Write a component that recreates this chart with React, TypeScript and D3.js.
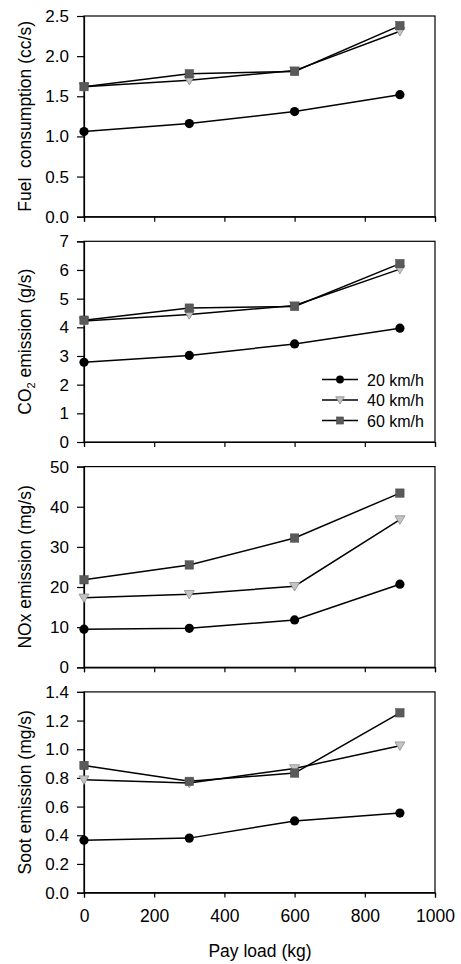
import React, { useEffect, useRef } from "react";
import * as d3 from "d3";

// pay load on the x axis, one point per load
const payLoad = [0, 300, 600, 900];
const speeds = ["20 km/h", "40 km/h", "60 km/h"];
const xTicks = [0, 200, 400, 600, 800, 1000];

// fuel consumption (cc/s) per speed
const fuel20 = [1.06, 1.16, 1.31, 1.52];
const fuel40 = [1.62, 1.7, 1.82, 2.31];
const fuel60 = [1.62, 1.78, 1.81, 2.38];

// CO2 emission (g/s)
const co2_20 = [2.78, 3.02, 3.42, 3.97];
const co2_40 = [4.22, 4.45, 4.76, 6.03];
const co2_60 = [4.25, 4.67, 4.73, 6.22];

// NOx emission (mg/s)
const nox20 = [9.5, 9.7, 11.8, 20.7];
const nox40 = [17.3, 18.2, 20.2, 36.8];
const nox60 = [21.8, 25.5, 32.2, 43.4];

// soot emission (mg/s)
const soot20 = [0.366, 0.38, 0.5, 0.555];
const soot40 = [0.788, 0.764, 0.866, 1.025];
const soot60 = [0.887, 0.776, 0.834, 1.254];

const fuelTicks = [0, 0.5, 1, 1.5, 2, 2.5];
const co2Ticks = [0, 1, 2, 3, 4, 5, 6, 7];
const noxTicks = [0, 10, 20, 30, 40, 50];
const sootTicks = [0, 0.2, 0.4, 0.6, 0.8, 1.0, 1.2, 1.4];

const panels = [
  { label: "Fuel  consumption (cc/s)", max: 2.5, ticks: fuelTicks, fmt: ".1f", series: [fuel20, fuel40, fuel60] },
  { label: "CO2", max: 7, ticks: co2Ticks, fmt: "d", series: [co2_20, co2_40, co2_60] },
  { label: "NOx emission (mg/s)", max: 50, ticks: noxTicks, fmt: "d", series: [nox20, nox40, nox60] },
  { label: "Soot emission (mg/s)", max: 1.4, ticks: sootTicks, fmt: ".1f", series: [soot20, soot40, soot60] },
];

const FONT = "'Liberation Sans', Arial, sans-serif";

const App = () => {
  const svgRef = useRef(null);

  useEffect(() => {
    document.body.style.margin = "0";
    const svg = d3.select(svgRef.current);
    svg.selectAll("*").remove();

    const left = 84;
    const right = 435;
    const panelH = 200.7;
    const panelTop = (i) => 16 + i * 225.3;

    const x = d3.scaleLinear().domain([0, 1000]).range([left, right]);

    // marker drawing for each series
    const drawMarker = (g, k, cx, cy, s) => {
      if (k === 0) {
        g.append("circle").attr("cx", cx).attr("cy", cy).attr("r", 4.6 * s).attr("fill", "#000");
      } else if (k === 1) {
        const h = 5 * s;
        g.append("path")
          .attr("d", `M${cx - h},${cy - h * 0.75}L${cx + h},${cy - h * 0.75}L${cx},${cy + h * 0.95}Z`)
          .attr("fill", "#c4c4c4")
          .attr("stroke", "#8a8a8a")
          .attr("stroke-width", 0.8);
      } else {
        const h = 4.2 * s;
        g.append("rect")
          .attr("x", cx - h)
          .attr("y", cy - h)
          .attr("width", 2 * h)
          .attr("height", 2 * h)
          .attr("fill", "#5a5a5a")
          .attr("stroke", "#444")
          .attr("stroke-width", 0.5);
      }
    };

    panels.forEach((p, i) => {
      const top = panelTop(i);
      const bottom = top + panelH;
      const y = d3.scaleLinear().domain([0, p.max]).range([bottom, top]);
      const g = svg.append("g");

      // frame
      g.append("rect")
        .attr("x", left)
        .attr("y", top)
        .attr("width", right - left)
        .attr("height", panelH)
        .attr("fill", "none")
        .attr("stroke", "#000")
        .attr("stroke-width", 1.2);

      // y axis
      const yAxis = g
        .append("g")
        .attr("transform", `translate(${left},0)`)
        .call(d3.axisLeft(y).tickValues(p.ticks).tickFormat(d3.format(p.fmt)).tickSize(7).tickPadding(8));
      yAxis.select(".domain").attr("stroke-width", 1.2);
      yAxis.selectAll("line").attr("stroke-width", 1.2);
      yAxis.selectAll("text").style("font-family", FONT).style("font-size", "17px").attr("fill", "#000");

      // x axis
      const xAxis = g
        .append("g")
        .attr("transform", `translate(0,${bottom})`)
        .call(d3.axisBottom(x).tickValues(xTicks).tickFormat(d3.format("d")).tickSize(5).tickPadding(12));
      xAxis.select(".domain").attr("stroke-width", 1.2);
      xAxis.selectAll("line").attr("stroke-width", 1.2);
      if (i === panels.length - 1) {
        xAxis.selectAll("text").style("font-family", FONT).style("font-size", "17.5px").attr("fill", "#000");
      } else {
        xAxis.selectAll("text").remove();
      }

      // y axis label
      const lab = g
        .append("text")
        .attr("transform", `translate(31,${(top + bottom) / 2}) rotate(-90)`)
        .attr("text-anchor", "middle")
        .style("font-family", FONT)
        .style("font-size", "17.5px")
        .attr("fill", "#000");
      if (p.label === "CO2") {
        lab.append("tspan").text("CO");
        lab.append("tspan").attr("dy", 4).style("font-size", "11px").text("2");
        lab.append("tspan").attr("dy", -4).text(" emission (g/s)");
      } else {
        lab.text(p.label).style("white-space", "pre");
      }

      // lines and markers
      const line = d3
        .line()
        .x((d, j) => x(payLoad[j]))
        .y((d) => y(d));
      p.series.forEach((vals) => {
        g.append("path")
          .attr("d", line(vals))
          .attr("fill", "none")
          .attr("stroke", "#000")
          .attr("stroke-width", 1.5);
      });
      p.series.forEach((vals, k) => {
        vals.forEach((v, j) => drawMarker(g, k, x(payLoad[j]), y(v), 1));
      });

      // legend in CO2 panel
      if (i === 1) {
        const legend = g.append("g");
        speeds.forEach((s, k) => {
          const ly = 379.5 + k * 20.5;
          legend
            .append("line")
            .attr("x1", 322)
            .attr("x2", 358)
            .attr("y1", ly)
            .attr("y2", ly)
            .attr("stroke", "#000")
            .attr("stroke-width", 1.5);
          drawMarker(legend, k, 340, ly, 0.85);
          legend
            .append("text")
            .attr("x", 367)
            .attr("y", ly + 6)
            .style("font-family", FONT)
            .style("font-size", "16px")
            .attr("fill", "#000")
            .text(s);
        });
      }
    });

    // x axis title
    svg
      .append("text")
      .attr("x", 260)
      .attr("y", 957)
      .attr("text-anchor", "middle")
      .style("font-family", FONT)
      .style("font-size", "17.5px")
      .attr("fill", "#000")
      .text("Pay load (kg)");
  }, []);

  return (
    <div style={{ width: 461, height: 964 }}>
      <svg ref={svgRef} width={461} height={964} style={{ display: "block", background: "#fff" }}></svg>
    </div>
  );
};

export default App;
